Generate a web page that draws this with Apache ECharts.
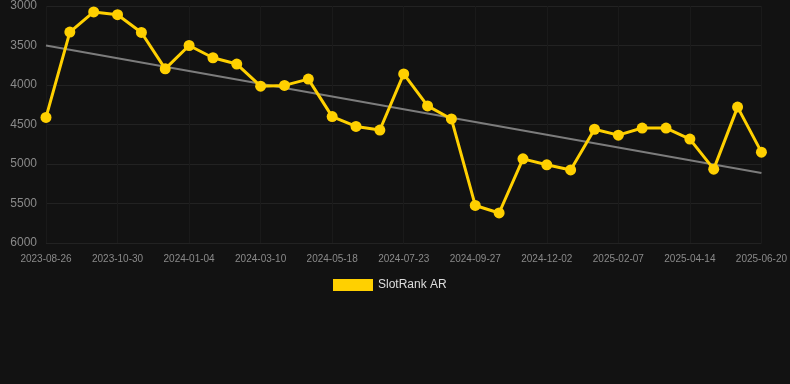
<!DOCTYPE html>
<html>
<head>
<meta charset="utf-8">
<script src="https://cdn.jsdelivr.net/npm/echarts@6/dist/echarts.min.js"></script>
<style>
  html, body { margin: 0; padding: 0; background: #121212; }
  #chart { width: 790px; height: 384px; }
</style>
</head>
<body>
<div id="chart"></div>
<script>
// 日期
var dates = [
    '2023-08-26', '2023-09-17', '2023-10-08', '2023-10-30', '2023-11-21', '2023-12-13',
    '2024-01-04', '2024-01-26', '2024-02-17', '2024-03-10', '2024-04-01', '2024-04-24',
    '2024-05-18', '2024-06-09', '2024-07-01', '2024-07-23', '2024-08-14', '2024-09-05',
    '2024-09-27', '2024-10-19', '2024-11-10', '2024-12-02', '2024-12-24', '2025-01-16',
    '2025-02-07', '2025-03-01', '2025-03-23', '2025-04-14', '2025-05-06', '2025-05-28',
    '2025-06-20'
];
// 排名
var ranks = [
    4410, 3330, 3075, 3110, 3335, 3795, 3500, 3655, 3735, 4015, 4005, 3925,
    4400, 4525, 4570, 3860, 4265, 4430, 5525, 5620, 4935, 5010, 5075, 4560,
    4635, 4545, 4545, 4685, 5065, 4280, 4850
];
// 趋势线 起点/终点
var trendEnds = [3500, 5115];

var trendData = dates.map(function (d, i) {
    if (i === 0) return trendEnds[0];
    if (i === dates.length - 1) return trendEnds[1];
    return null;
});

var chart = echarts.init(document.getElementById('chart'));
var option = {
    backgroundColor: '#121212',
    animation: false,
    grid: {
        left: 46,
        right: 28,
        top: 6,
        bottom: 141
    },
    legend: {
        top: 274,
        left: 328,
        data: [{name: 'SlotRank AR', icon: 'rect'}],
        itemWidth: 40,
        itemHeight: 12,
        textStyle: {color: '#dddddd', fontSize: 12, fontFamily: 'Liberation Sans'}
    },
    xAxis: {
        type: 'category',
        data: dates,
        boundaryGap: false,
        axisLine: {show: false},
        axisTick: {show: false},
        axisLabel: {
            interval: 2,
            color: '#8a8a8a',
            fontSize: 10,
            fontFamily: 'Liberation Sans',
            margin: 11
        },
        splitLine: {
            show: true,
            interval: 2,
            lineStyle: {color: '#1a1a1a', width: 1}
        }
    },
    yAxis: {
        type: 'value',
        inverse: true,
        min: 3000,
        max: 6000,
        interval: 500,
        axisLine: {show: false},
        axisTick: {show: false},
        axisLabel: {
            color: '#8a8a8a',
            fontSize: 12,
            fontFamily: 'Liberation Sans',
            margin: 9,
            formatter: function (v) { return String(v); }
        },
        splitLine: {lineStyle: {color: '#222222', width: 1}}
    },
    series: [
        {
            name: 'trend',
            type: 'line',
            data: trendData,
            connectNulls: true,
            symbol: 'none',
            lineStyle: {color: '#7c7c7c', width: 2},
            silent: true,
            z: 1
        },
        {
            name: 'SlotRank AR',
            type: 'line',
            data: ranks,
            symbol: 'circle',
            symbolSize: 11,
            itemStyle: {color: '#ffd000'},
            lineStyle: {color: '#ffd000', width: 3},
            z: 2
        }
    ]
};
chart.setOption(option);
</script>
</body>
</html>
